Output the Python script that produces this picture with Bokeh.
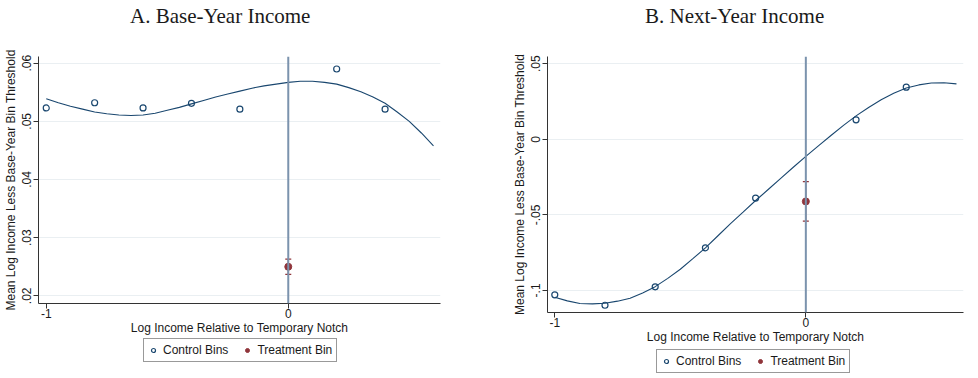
from bokeh.plotting import figure
from bokeh.layouts import row, column
from bokeh.models import (FixedTicker, CustomJSTickFormatter, Legend, LegendItem,
                          Whisker, TeeHead, ColumnDataSource, Span, Range1d, Div)
from bokeh.embed import file_html
from bokeh.resources import INLINE

# ---------------- data ----------------
bins_x = [-1.0, -0.8, -0.6, -0.4, -0.2, 0.2, 0.4]
base_ctrl = [0.0523, 0.0532, 0.0523, 0.0531, 0.0521, 0.0590, 0.0521]
next_ctrl = [-0.1029, -0.1098, -0.0976, -0.0718, -0.0389, 0.0129, 0.0345]

treat_x = [0.0]
base_treat = [0.0250]
base_treat_lo = [0.0237]
base_treat_hi = [0.0263]
next_treat = [-0.0411]
next_treat_lo = [-0.0541]
next_treat_hi = [-0.0280]

fit_x = [-1.0, -0.95, -0.9, -0.85, -0.8, -0.75, -0.7, -0.65, -0.6, -0.55,
         -0.5, -0.45, -0.4, -0.35, -0.3, -0.25, -0.2, -0.15, -0.1, -0.05,
         0.0, 0.05, 0.1, 0.15, 0.2, 0.25, 0.3, 0.35, 0.4, 0.45, 0.5, 0.55, 0.6]
base_fit = [0.0539, 0.0532, 0.0526, 0.0521, 0.0516, 0.0513, 0.0511, 0.0510,
            0.0511, 0.0514, 0.0519, 0.0524, 0.0530, 0.0536, 0.0542, 0.0547,
            0.0552, 0.0557, 0.0561, 0.0564, 0.0567, 0.0569, 0.0569, 0.0567,
            0.0564, 0.0558, 0.0551, 0.0542, 0.0531, 0.0516, 0.0500, 0.0480, 0.0458]
next_fit = [-0.1045, -0.1069, -0.1086, -0.1089, -0.1085, -0.1071, -0.1052, -0.1017,
            -0.0975, -0.0920, -0.0860, -0.0790, -0.0718, -0.0638, -0.0558, -0.0482,
            -0.0405, -0.0332, -0.0258, -0.0185, -0.0113, -0.0043, 0.0025, 0.0092,
            0.0155, 0.0211, 0.0262, 0.0305, 0.0340, 0.0360, 0.0373, 0.0374, 0.0367]

x_ticks = [-1, 0]
base_y_ticks = [0.02, 0.03, 0.04, 0.05, 0.06]
next_y_ticks = [-0.1, -0.05, 0.0, 0.05]

titles = ["A. Base-Year Income", "B. Next-Year Income"]
x_label = "Log Income Relative to Temporary Notch"
y_label = "Mean Log Income Less Base-Year Bin Threshold"
legend_labels = ["Control Bins", "Treatment Bin"]

NAVY = "#1a476f"
MAROON = "#90353b"
VLINE = "#7b93ad"
AXIS = "#333333"
GRID = "#eaeff2"
TITLE_H = 30
BOTTOM = 35
TOTAL_H = 378

fmt = CustomJSTickFormatter(code="""
if (Math.abs(tick) < 1e-9) return "0";
const s = parseFloat(tick.toFixed(4)).toString();
return s.replace("0.", ".");
""")


def make_title(text, width, pad_left):
    html = ('<div style="font-family:\'Liberation Serif\';font-size:21px;'
            'line-height:24px;padding-top:4px;color:#1a1a1a;'
            'white-space:nowrap;padding-left:%dpx">%s</div>' % (pad_left, text))
    return Div(text=html, width=width, height=TITLE_H, margin=0)


def make_panel(xr, yr, yticks, ctrl, fit, t, tlo, thi, fw, fh, borders):
    p = figure(frame_width=fw, frame_height=fh, output_backend="svg",
               toolbar_location=None,
               x_range=Range1d(*xr), y_range=Range1d(*yr),
               min_border_left=borders[0], min_border_right=borders[1],
               min_border_top=borders[2], min_border_bottom=BOTTOM)
    p.outline_line_color = None
    p.background_fill_color = "white"
    p.border_fill_color = "white"

    for ax in (p.xaxis[0], p.yaxis[0]):
        ax.axis_line_color = AXIS
        ax.major_tick_line_color = AXIS
        ax.major_tick_out = 5
        ax.major_tick_in = 0
        ax.minor_tick_line_color = None
        ax.major_label_text_font = "Liberation Sans"
        ax.major_label_text_font_size = "12px"
        ax.major_label_text_color = "#1a1a1a"
        ax.axis_label_text_font = "Liberation Sans"
        ax.axis_label_text_font_size = "12px"
        ax.axis_label_text_font_style = "normal"
        ax.axis_label_text_color = "#1a1a1a"
        ax.formatter = fmt
        ax.major_label_standoff = 0
        ax.axis_label_standoff = 0

    p.yaxis[0].major_label_standoff = 2
    p.yaxis[0].axis_label_standoff = 2
    p.xaxis[0].ticker = FixedTicker(ticks=x_ticks)
    p.yaxis[0].ticker = FixedTicker(ticks=yticks)
    p.yaxis[0].major_label_orientation = "vertical"
    p.xaxis[0].axis_label = x_label
    p.yaxis[0].axis_label = y_label

    p.xgrid.grid_line_color = None
    p.ygrid.ticker = FixedTicker(ticks=yticks)
    p.ygrid.grid_line_color = GRID
    p.ygrid.grid_line_width = 1

    p.add_layout(Span(location=0, dimension="height", line_color=VLINE, line_width=2))

    p.line(fit_x, fit, line_color=NAVY, line_width=1.1)
    p.scatter(bins_x, ctrl, marker="circle", size=6, line_color=NAVY,
              line_width=1.2, fill_color="white", fill_alpha=0.0)

    src = ColumnDataSource(dict(x=treat_x, y=t, lo=tlo, hi=thi))
    wh = Whisker(base="x", upper="hi", lower="lo", source=src,
                 line_color=MAROON, line_width=1.2,
                 upper_head=TeeHead(size=6, line_color=MAROON, line_width=1.2),
                 lower_head=TeeHead(size=6, line_color=MAROON, line_width=1.2))
    p.add_layout(wh)
    p.scatter("x", "y", source=src, marker="circle", size=7,
              line_color=MAROON, fill_color=MAROON)
    return p


def make_legend_fig(width, height, loc, ctrl, t):
    # legend-only strip: the series are drawn with ranges far from the data,
    # so only their legend glyphs show
    lf = figure(width=width, height=height, output_backend="svg",
                toolbar_location=None, x_axis_type=None, y_axis_type=None,
                min_border=0, x_range=Range1d(10, 11), y_range=Range1d(10, 11))
    lf.outline_line_color = None
    lf.grid.grid_line_color = None
    lf.background_fill_color = "white"
    lf.border_fill_color = "white"
    r_ctrl = lf.scatter(bins_x, ctrl, marker="circle", size=6, line_color=NAVY,
                        line_width=1.2, fill_color="white", fill_alpha=0.0)
    r_treat = lf.scatter(treat_x, t, marker="circle", size=7,
                         line_color=MAROON, fill_color=MAROON)
    legend = Legend(items=[LegendItem(label=legend_labels[0], renderers=[r_ctrl]),
                           LegendItem(label=legend_labels[1], renderers=[r_treat])],
                    orientation="horizontal", location=loc,
                    border_line_color=AXIS, border_line_width=1,
                    background_fill_color="white", background_fill_alpha=1.0,
                    label_text_font="Liberation Sans", label_text_font_size="12px",
                    label_text_color="#1a1a1a",
                    glyph_width=10, glyph_height=12, label_height=12,
                    label_standoff=5, spacing=14, padding=4, margin=0)
    lf.add_layout(legend)
    return lf


LEFT_W, RIGHT_W = 480, 498
p1 = make_panel((-1.032, 0.629), (0.01868, 0.06115), base_y_ticks,
                base_ctrl, base_fit, base_treat, base_treat_lo, base_treat_hi,
                402, 247, (38, 40, 56 - TITLE_H))
p2 = make_panel((-1.029, 0.628), (-0.1146, 0.0548), next_y_ticks,
                next_ctrl, next_fit, next_treat, next_treat_lo, next_treat_hi,
                416, 256, (67, 15, 56 - TITLE_H))

lh1 = TOTAL_H - (56 + 247 + BOTTOM)
lh2 = TOTAL_H - (56 + 256 + BOTTOM)
l1 = make_legend_fig(LEFT_W, lh1, (105, 16), base_ctrl, base_treat)
l2 = make_legend_fig(RIGHT_W, lh2, (109, 5), next_ctrl, next_treat)

t1 = make_title(titles[0], LEFT_W, 130)
t2 = make_title(titles[1], RIGHT_W, 165)

layout = row(column(t1, p1, l1, spacing=0), column(t2, p2, l2, spacing=0), spacing=0)
open("out.html", "w").write(file_html(layout, INLINE))
